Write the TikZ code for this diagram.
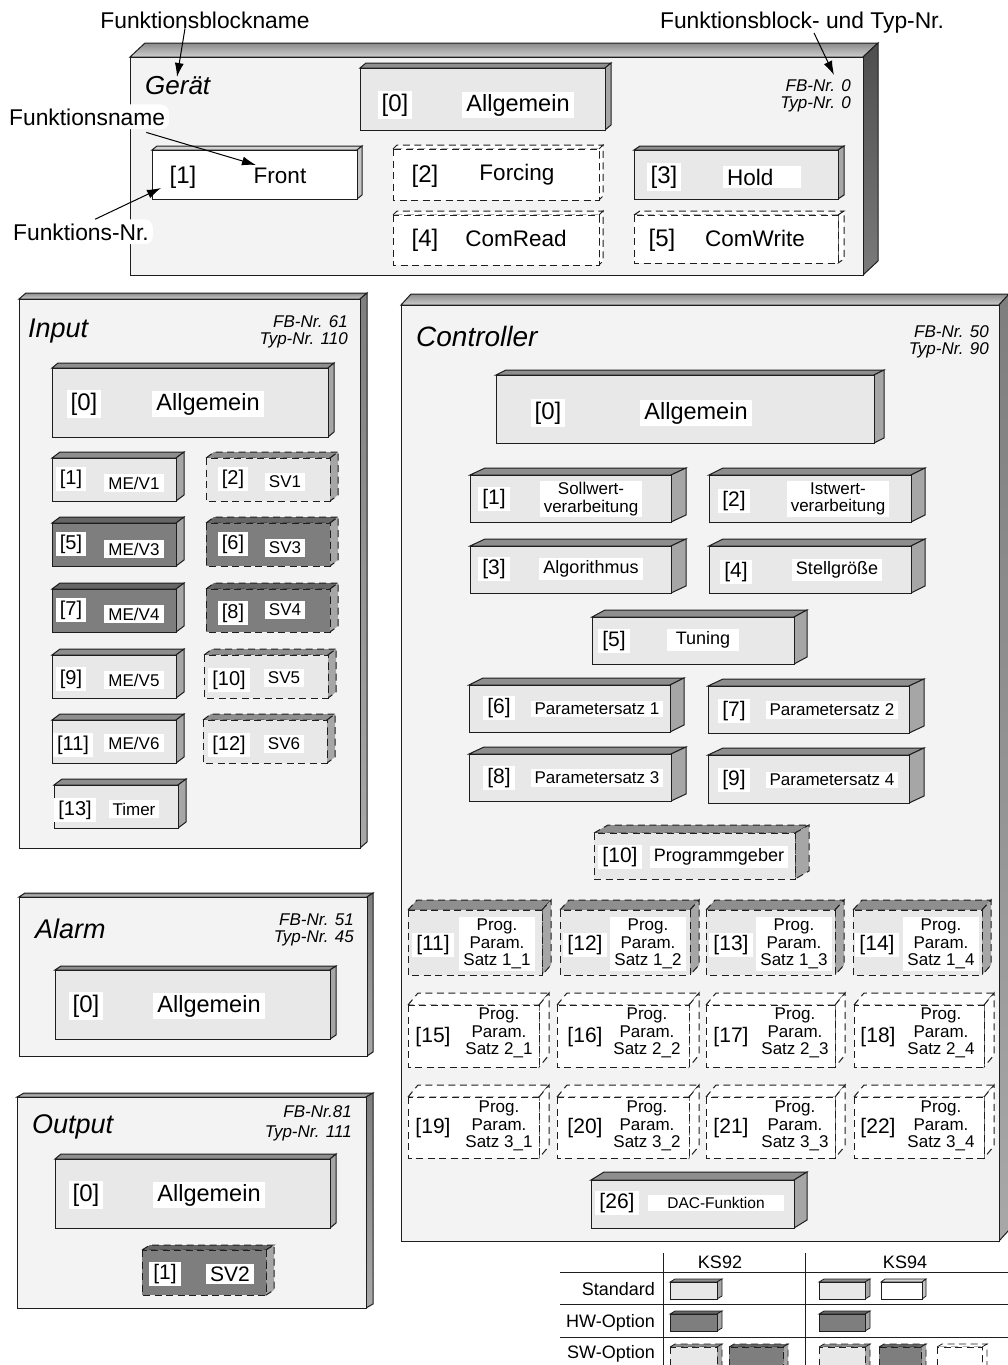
\documentclass[tikz,border=0pt]{standalone}
\usepackage{fontspec}
\setmainfont{Liberation Sans}
\usetikzlibrary{arrows.meta}
\definecolor{bfront}{HTML}{F3F3F3}
\definecolor{gtopA}{HTML}{8A8A8A}
\definecolor{gtopB}{HTML}{CFCFCF}
\definecolor{gsideA}{HTML}{4E4E4E}
\definecolor{gsideB}{HTML}{7A7A7A}
\definecolor{osideA}{HTML}{7E7E7E}
\definecolor{osideB}{HTML}{A8A8A8}
\definecolor{bxlight}{HTML}{E8E8E8}
\definecolor{bxtop}{HTML}{8E8E8E}
\definecolor{bxside}{HTML}{A6A6A6}
\definecolor{bxdark}{HTML}{7E7E7E}
\definecolor{bxdarktop}{HTML}{666666}
\definecolor{bxwtop}{HTML}{D2D2D2}
\definecolor{bxwside}{HTML}{C4C4C4}
\definecolor{lncol}{HTML}{1E1E1E}

\newcommand{\fs}[1]{\fontsize{#1}{#1}\selectfont}
\newcommand{\Tlight}{\def\kcf{bxlight}\def\kct{bxtop}\def\kcs{bxside}}
\newcommand{\Tdark}{\def\kcf{bxdark}\def\kct{bxdarktop}\def\kcs{bxside}}
\newcommand{\Twhite}{\def\kcf{white}\def\kct{bxwtop}\def\kcs{bxwside}}
\newcommand{\Tdw}{\def\kcf{white}\def\kct{white}\def\kcs{white}}

% #1 type, #2 x1, #3 y1, #4 x2, #5 y2, #6 dx, #7 dy, #8 extra style
\newcommand{\kbox}[8]{#1%
\filldraw[line width=1pt,draw=lncol,fill=\kct,#8] (#2,#3) -- ({#2+#6},{#3-#7}) -- ({#4+#6},{#3-#7}) -- (#4,#3) -- cycle;
\filldraw[line width=1pt,draw=lncol,fill=\kcs,#8] (#4,#3) -- ({#4+#6},{#3-#7}) -- ({#4+#6},{#5-#7}) -- (#4,#5) -- cycle;
\filldraw[line width=1pt,draw=lncol,fill=\kcf,#8] (#2,#3) rectangle (#4,#5);}

% #1 x1 #2 y1 #3 x2 #4 y2 #5 dx #6 dy #7 side top colour #8 side bottom colour
\newcommand{\bigbox}[8]{%
\shadedraw[line width=1pt,draw=lncol,top color=gtopA,bottom color=gtopB] (#1,#2) -- ({#1+#5},{#2-#6}) -- ({#3+#5},{#2-#6}) -- (#3,#2) -- cycle;
\shadedraw[line width=1pt,draw=lncol,top color=#7,bottom color=#8] (#3,#2) -- ({#3+#5},{#2-#6}) -- ({#3+#5},{#4-#6}) -- (#3,#4) -- cycle;
\filldraw[line width=1pt,draw=lncol,fill=bfront] (#1,#2) rectangle (#3,#4);}

\tikzset{
 dsh/.style={dash pattern=on 7pt off 4.5pt},
 lab/.style={fill=white, inner xsep=4pt, inner ysep=2.5pt},
 lg/.style={lab, font=\fs{22.5}},
 lgb/.style={lab, font=\fs{24}},
 la/.style={lab, font=\fs{23.5}},
 ls/.style={lab, font=\fs{17}},
 lsb/.style={lab, font=\fs{20}},
 lcn/.style={lab, font=\fs{21}},
 lct/.style={lab, font=\fs{18}},
 lp/.style={lab, inner ysep=1.5pt, font=\fontsize{17}{17.5}\selectfont, align=center},
 ttl/.style={font=\fs{27}\itshape, inner sep=0pt, anchor=base west},
 fbn/.style={font=\fs{17}\itshape, inner sep=0pt, anchor=base east},
 ann/.style={font=\fs{22.8}, inner sep=0pt},
 annw/.style={ann, fill=white, rounded corners=8pt, inner xsep=4pt, inner ysep=4pt},
 arr/.style={line width=1pt, draw=black, -{Latex[length=14pt,width=9pt]}},
 lgd/.style={font=\fs{18}, inner sep=0pt},
 lgl/.style={line width=0.8pt, draw=lncol},
}

\begin{document}
\begin{tikzpicture}[x=1pt,y=-1pt]
\useasboundingbox (0,0) rectangle (1008,1365);
\fill[white] (0,0) rectangle (1008,1365);

% ---------------- big blocks
\bigbox{130}{57}{863}{275}{15}{14}{gsideA}{gsideB}
\bigbox{19}{299}{360}{848}{7}{6}{osideA}{osideB}
\bigbox{19}{897}{367}{1056}{6}{4}{osideA}{osideB}
\bigbox{17}{1097}{366}{1308}{7}{4}{osideA}{osideB}
\bigbox{401}{305}{999}{1241}{10}{11}{osideA}{osideB}

% ---------------- Geraet
\kbox{\Tlight}{360}{68}{605}{130}{6}{5}{}
\kbox{\Twhite}{152}{150}{357}{199}{5}{4}{}
\kbox{\Tdw}{393}{149}{599}{200}{4}{4}{dsh}
\kbox{\Tdw}{393}{215}{599}{265}{4}{4}{dsh}
\kbox{\Tlight}{634}{150}{838}{199}{6}{4}{}
\kbox{\Tdw}{634}{215}{838}{263}{6}{4}{dsh}

\node[ttl,font=\fs{26}\itshape] (tG) at (145,94) {Gerät};
\node[fbn] (fbG1) at (851,91) {FB-Nr. 0};
\node[fbn] (fbG2) at (851,108) {Typ-Nr. 0};
\node[lgb] (g0n) at (395,105) {[0]};
\node[la] (g0t) at (518,105) {Allgemein};
\node[lgb] (g1n) at (183,177) {[1]};
\node[lg] (g1t) at (280,176) {Front};
\node[lgb] (g2n) at (425,176) {[2]};
\node[lg] (g2t) at (517,175) {Forcing};
\node[lgb] (g4n) at (425,240) {[4]};
\node[lg] (g4t) at (516,238) {ComRead};
\node[lgb] (g3n) at (664,177) {[3]};
\node[lg, text width=70pt] (g3t) at (762,177) {Hold};
\node[lgb] (g5n) at (662,240) {[5]};
\node[lg] (g5t) at (755,238) {ComWrite};

% ---------------- Input
\kbox{\Tlight}{52}{368}{328}{437}{6}{5}{}
\kbox{\Tlight}{52}{458}{176}{501}{8}{6}{}
\kbox{\Tlight}{206}{458}{330}{501}{8}{6}{dsh}
\kbox{\Tdark}{52}{523}{176}{566}{8}{6}{}
\kbox{\Tdark}{206}{523}{330}{566}{8}{6}{dsh}
\kbox{\Tdark}{52}{589}{176}{632}{8}{6}{}
\kbox{\Tdark}{206}{589}{330}{632}{8}{6}{dsh}
\kbox{\Tlight}{52}{655}{176}{698}{8}{6}{}
\kbox{\Tlight}{204}{655}{328}{698}{8}{6}{dsh}
\kbox{\Tlight}{52}{720}{176}{763}{8}{6}{}
\kbox{\Tlight}{203}{720}{327}{763}{8}{6}{dsh}
\kbox{\Tlight}{54}{785}{178}{828}{8}{6}{}

\node[ttl] (tI) at (28,337) {Input};
\node[fbn] (fbI1) at (348,327) {FB-Nr. 61};
\node[fbn] (fbI2) at (348,344) {Typ-Nr. 110};
\node[lgb] (i0n) at (84,404) {[0]};
\node[la] (i0t) at (208,404) {Allgemein};
\node[lsb] (i1n) at (71,479) {[1]};
\node[ls] (i1t) at (134,483) {ME/V1};
\node[lsb] (i2n) at (233,479) {[2]};
\node[ls] (i2t) at (285,482) {SV1};
\node[lsb] (i5n) at (71,544) {[5]};
\node[ls] (i5t) at (134,549) {ME/V3};
\node[lsb] (i6n) at (233,544) {[6]};
\node[ls] (i6t) at (285,548) {SV3};
\node[lsb] (i7n) at (71,610) {[7]};
\node[ls] (i7t) at (134,614) {ME/V4};
\node[lsb] (i8n) at (233,613) {[8]};
\node[ls] (i8t) at (285,610) {SV4};
\node[lsb] (i9n) at (71,679) {[9]};
\node[ls] (i9t) at (134,680) {ME/V5};
\node[lsb] (i10n) at (229,680) {[10]};
\node[ls] (i10t) at (284,678) {SV5};
\node[lsb] (i11n) at (73,745) {[11]};
\node[ls] (i11t) at (134,743) {ME/V6};
\node[lsb] (i12n) at (229,745) {[12]};
\node[ls] (i12t) at (284,744) {SV6};
\node[lsb] (i13n) at (75,810) {[13]};
\node[ls] (i13t) at (134,809) {Timer};

% ---------------- Alarm
\kbox{\Tlight}{55}{970}{330}{1039}{6}{4}{}
\node[ttl] (tA) at (35,938) {Alarm};
\node[fbn] (fbA1) at (354,925) {FB-Nr. 51};
\node[fbn] (fbA2) at (354,942) {Typ-Nr. 45};
\node[lgb] (a0n) at (86,1006) {[0]};
\node[la] (a0t) at (209,1006) {Allgemein};

% ---------------- Output
\kbox{\Tlight}{55}{1159}{330}{1228}{6}{5}{}
\kbox{\Tdark}{142}{1250}{266}{1295}{8}{5}{dsh}
\node[ttl] (tO) at (32,1133) {Output};
\node[fbn] (fbO1) at (352,1117) {FB-Nr.81};
\node[fbn] (fbO2) at (352,1137) {Typ-Nr. 111};
\node[lgb] (o0n) at (86,1195) {[0]};
\node[la] (o0t) at (209,1195) {Allgemein};
\node[lcn] (o1n) at (165,1274) {[1]};
\node[lcn] (o1t) at (230,1274) {SV2};

% ---------------- Controller
\kbox{\Tlight}{496}{375}{874}{443}{10}{5}{}
\kbox{\Tlight}{470}{475}{671}{522}{15}{7}{}
\kbox{\Tlight}{709}{475}{911}{522}{14}{7}{}
\kbox{\Tlight}{470}{546}{671}{593}{15}{7}{}
\kbox{\Tlight}{709}{546}{911}{593}{14}{7}{}
\kbox{\Tlight}{592}{617}{794}{664}{13}{7}{}
\kbox{\Tlight}{469}{685}{670}{732}{14}{7}{}
\kbox{\Tlight}{708}{686}{909}{733}{15}{7}{}
\kbox{\Tlight}{469}{754}{671}{801}{15}{7}{}
\kbox{\Tlight}{708}{755}{909}{803}{15}{7}{}
\kbox{\Tlight}{594}{833}{795}{879}{14}{8}{dsh}
\kbox{\Tlight}{408}{910}{542}{975}{9}{10}{dsh}
\kbox{\Tlight}{560}{910}{690}{975}{9}{10}{dsh}
\kbox{\Tlight}{706}{910}{835}{975}{9}{10}{dsh}
\kbox{\Tlight}{853}{910}{982}{975}{9}{10}{dsh}
\kbox{\Tdw}{408}{1005}{539}{1067}{10}{12}{dsh}
\kbox{\Tdw}{557}{1005}{689}{1067}{10}{12}{dsh}
\kbox{\Tdw}{706}{1005}{835}{1067}{10}{12}{dsh}
\kbox{\Tdw}{854}{1005}{984}{1067}{10}{12}{dsh}
\kbox{\Tdw}{408}{1097}{539}{1158}{10}{12}{dsh}
\kbox{\Tdw}{557}{1097}{689}{1158}{10}{12}{dsh}
\kbox{\Tdw}{706}{1097}{835}{1158}{10}{12}{dsh}
\kbox{\Tdw}{854}{1097}{984}{1158}{10}{12}{dsh}
\kbox{\Tlight}{591}{1180}{794}{1228}{13}{8}{}

\node[ttl,font=\fs{28}\itshape] (tC) at (416,346) {Controller};
\node[fbn] (fbC1) at (989,337) {FB-Nr. 50};
\node[fbn] (fbC2) at (989,354) {Typ-Nr. 90};
\node[lgb] (c0n) at (548,413) {[0]};
\node[la] (c0t) at (696,413) {Allgemein};
\node[lcn] (c1n) at (494,499) {[1]};
\node[lp] (c1t) at (591,499) {Sollwert-\\verarbeitung};
\node[lcn] (c2n) at (734,501) {[2]};
\node[lp] (c2t) at (838,499) {Istwert-\\verarbeitung};
\node[lcn] (c3n) at (494,569) {[3]};
\node[lct] (c3t) at (591,569) {Algorithmus};
\node[lcn] (c4n) at (736,572) {[4]};
\node[lct] (c4t) at (837,570) {Stellgröße};
\node[lcn] (c5n) at (614,641) {[5]};
\node[lct, minimum width=72pt] (c5t) at (703,640) {Tuning};
\node[lcn] (c6n) at (499,708) {[6]};
\node[ls] (c6t) at (597,709) {Parametersatz 1};
\node[lcn] (c7n) at (734,711) {[7]};
\node[ls] (c7t) at (832,710) {Parametersatz 2};
\node[lcn] (c8n) at (499,778) {[8]};
\node[ls] (c8t) at (597,778) {Parametersatz 3};
\node[lcn] (c9n) at (734,780) {[9]};
\node[ls] (c9t) at (832,780) {Parametersatz 4};
\node[lcn] (c10n) at (620,857) {[10]};
\node[lct] (c10t) at (719,857) {Programmgeber};

\node[lcn] (c11n) at (433,945) {[11]};
\node[lp] (c11t) at (497,944) {Prog.\\Param.\\Satz 1\_1};
\node[lcn] (c12n) at (585,945) {[12]};
\node[lp] (c12t) at (648,944) {Prog.\\Param.\\Satz 1\_2};
\node[lcn] (c13n) at (731,945) {[13]};
\node[lp] (c13t) at (794,944) {Prog.\\Param.\\Satz 1\_3};
\node[lcn] (c14n) at (877,945) {[14]};
\node[lp] (c14t) at (941,944) {Prog.\\Param.\\Satz 1\_4};

\node[lcn] (c15n) at (433,1037) {[15]};
\node[lp] (c15t) at (499,1033) {Prog.\\Param.\\Satz 2\_1};
\node[lcn] (c16n) at (585,1037) {[16]};
\node[lp] (c16t) at (647,1033) {Prog.\\Param.\\Satz 2\_2};
\node[lcn] (c17n) at (731,1037) {[17]};
\node[lp] (c17t) at (795,1033) {Prog.\\Param.\\Satz 2\_3};
\node[lcn] (c18n) at (878,1037) {[18]};
\node[lp] (c18t) at (941,1033) {Prog.\\Param.\\Satz 2\_4};

\node[lcn] (c19n) at (433,1128) {[19]};
\node[lp] (c19t) at (499,1126) {Prog.\\Param.\\Satz 3\_1};
\node[lcn] (c20n) at (585,1128) {[20]};
\node[lp] (c20t) at (647,1126) {Prog.\\Param.\\Satz 3\_2};
\node[lcn] (c21n) at (731,1128) {[21]};
\node[lp] (c21t) at (795,1126) {Prog.\\Param.\\Satz 3\_3};
\node[lcn] (c22n) at (878,1128) {[22]};
\node[lp] (c22t) at (941,1126) {Prog.\\Param.\\Satz 3\_4};

\node[lcn] (c26n) at (617,1203) {[26]};
\node[lab, font=\fs{15.5}, minimum width=136pt] (c26t) at (716,1203) {DAC-Funktion};

% ---------------- annotations
\node[ann, anchor=base] (fbname) at (205,28) {Funktionsblockname};
\node[ann, anchor=base] (ftyp) at (802,28) {Funktionsblock- und Typ-Nr.};
\node[annw, anchor=base west] (fname) at (5,125) {Funktionsname};
\node[annw, anchor=base west] (fnr) at (9,240) {Funktions-Nr.};
\coordinate (e1) at (177,77);
\coordinate (e2) at (256,165);
\coordinate (e3) at (161,188);
\coordinate (e4) at (834,75);
\draw[arr] ([xshift=-20pt]fbname.south) -- (e1);
\draw[arr] ([xshift=-23pt,yshift=-3pt]fname.south east) -- (e2);
\draw[arr] ([xshift=86pt]fnr.north west) -- (e3);
\draw[arr] ([xshift=12pt]ftyp.south) -- (e4);

% ---------------- legend
\draw[lgl] (663,1253) -- (663,1365);
\draw[lgl] (805,1253) -- (805,1365);
\draw[lgl] (560,1272) -- (1008,1272);
\draw[lgl] (560,1304) -- (1008,1304);
\draw[lgl] (560,1337) -- (1008,1337);
\node[lgd, anchor=base] (k92) at (720,1268) {KS92};
\node[lgd, anchor=base] (k94) at (905,1268) {KS94};
\node[lgd, anchor=base east] (lstd) at (655,1295) {Standard};
\node[lgd, anchor=base east] (lhw) at (655,1327) {HW-Option};
\node[lgd, anchor=base east] (lsw) at (655,1358) {SW-Option};
\kbox{\Tlight}{670}{1282}{717}{1299}{5}{3}{line width=0.8pt}
\kbox{\Tlight}{819}{1282}{865}{1299}{5}{3}{line width=0.8pt}
\kbox{\Twhite}{881}{1282}{922}{1299}{4}{3}{line width=0.8pt}
\kbox{\Tdark}{670}{1314}{717}{1331}{5}{3}{line width=0.8pt}
\kbox{\Tdark}{819}{1314}{865}{1331}{5}{3}{line width=0.8pt}
\kbox{\Tlight}{670}{1347}{717}{1372}{5}{3}{dsh,line width=0.8pt}
\kbox{\Tdark}{729}{1347}{783}{1372}{5}{3}{dsh,line width=0.8pt}
\kbox{\Tlight}{819}{1347}{865}{1372}{5}{3}{dsh,line width=0.8pt}
\kbox{\Tdark}{879}{1347}{921}{1372}{5}{3}{dsh,line width=0.8pt}
\kbox{\Tdw}{937}{1347}{982}{1372}{5}{3}{dsh,line width=0.8pt}
\end{tikzpicture}
\end{document}
